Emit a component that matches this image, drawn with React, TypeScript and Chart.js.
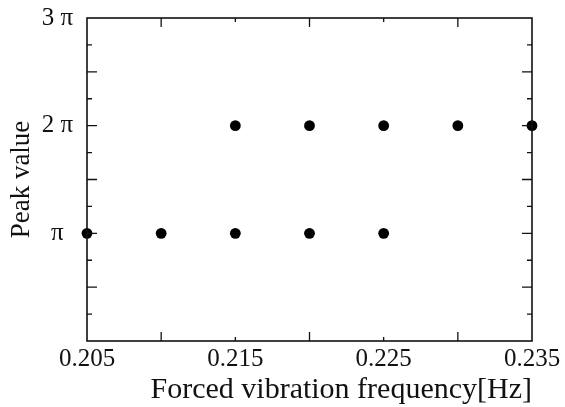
import React, { useEffect, useRef } from "react";
import { Chart, registerables } from "chart.js";

Chart.register(...registerables);

// Data (y values in units of π)
const freqLow = [0.205, 0.21, 0.215, 0.22, 0.225];
const peakLow = [1, 1, 1, 1, 1];
const freqHigh = [0.215, 0.22, 0.225, 0.23, 0.235];
const peakHigh = [2, 2, 2, 2, 2];

const xTickLabels = ["0.205", "", "0.215", "", "0.225", "", "0.235"];
const yTickLabels = ["", "π", "2 π", "3 π"];

const FONT = "'Liberation Serif', 'Times New Roman', serif";
const INK = "#111";

const framePlugin = {
  id: "frameTicks",
  afterDatasetsDraw(chart: any) {
    const { ctx, chartArea } = chart;
    const { left, right, top, bottom } = chartArea;
    ctx.save();
    ctx.strokeStyle = INK;
    ctx.lineWidth = 1.6;
    ctx.strokeRect(left, top, right - left, bottom - top);
    ctx.lineWidth = 1.3;
    const xs = chart.scales.x;
    xs.ticks.forEach((t: any, i: number) => {
      const px = xs.getPixelForValue(t.value);
      if (px <= left + 1 || px >= right - 1) return;
      const len = i % 2 === 0 ? 4 : 9;
      ctx.beginPath();
      ctx.moveTo(px, bottom);
      ctx.lineTo(px, bottom - len);
      ctx.moveTo(px, top);
      ctx.lineTo(px, top + len);
      ctx.stroke();
    });
    const ys = chart.scales.y;
    ys.ticks.forEach((t: any) => {
      const py = ys.getPixelForValue(t.value);
      if (py <= top + 1 || py >= bottom - 1) return;
      const frac = Math.abs(t.value * 2 - Math.round(t.value * 2));
      const len = frac < 1e-6 ? 10 : 5;
      ctx.beginPath();
      ctx.moveTo(left, py);
      ctx.lineTo(left + len, py);
      ctx.moveTo(right, py);
      ctx.lineTo(right - len, py);
      ctx.stroke();
    });
    ctx.restore();
  },
};

export default function App() {
  const ref = useRef<HTMLCanvasElement | null>(null);
  useEffect(() => {
    if (!ref.current) return;
    const chart = new Chart(ref.current, {
      type: "scatter",
      data: {
        datasets: [
          {
            data: freqLow.map((x, i) => ({ x, y: peakLow[i] })),
            backgroundColor: "#000",
            borderWidth: 0,
            pointRadius: 5.4,
            clip: false,
          },
          {
            data: freqHigh.map((x, i) => ({ x, y: peakHigh[i] })),
            backgroundColor: "#000",
            borderWidth: 0,
            pointRadius: 5.4,
            clip: false,
          },
        ],
      },
      options: {
        animation: false,
        responsive: false,
        layout: { padding: { top: 18, right: 33, left: 0, bottom: 0 } },
        plugins: { legend: { display: false }, tooltip: { enabled: false } },
        scales: {
          x: {
            type: "linear",
            min: 0.205,
            max: 0.235,
            afterFit: (s: any) => {
              s.height = 66;
              s.paddingLeft = 0;
              s.paddingRight = 0;
            },
            ticks: {
              stepSize: 0.005,
              autoSkip: false,
              maxRotation: 0,
              padding: 3,
              color: INK,
              font: { family: FONT, size: 25 },
              callback: (_v: any, i: number) => xTickLabels[i] ?? "",
            },
            grid: { display: false, drawTicks: false },
            border: { display: false },
            title: {
              display: true,
              text: "Forced vibration frequency[Hz]",
              align: "end",
              color: INK,
              font: { family: FONT, size: 30, lineHeight: 1 },
              padding: { top: 0, bottom: 2 },
            },
          },
          y: {
            type: "linear",
            min: 0,
            max: 3,
            afterFit: (s: any) => {
              s.width = 87;
              s.paddingTop = 0;
              s.paddingBottom = 0;
            },
            ticks: {
              stepSize: 0.25,
              autoSkip: false,
              padding: 14,
              crossAlign: "center",
              color: INK,
              font: { family: FONT, size: 25 },
              callback: (v: any) => {
                const n = Number(v);
                return Math.abs(n - Math.round(n)) < 1e-6 ? yTickLabels[Math.round(n)] : "";
              },
            },
            grid: { display: false, drawTicks: false },
            border: { display: false },
            title: {
              display: true,
              text: "Peak value",
              color: INK,
              font: { family: FONT, size: 27, lineHeight: 1 },
              padding: { top: 8, bottom: 0 },
            },
          },
        },
      },
      plugins: [framePlugin],
    });
    return () => chart.destroy();
  }, []);
  return (
    <div style={{ position: "fixed", left: 0, top: 0, width: 565, height: 407, background: "#fff" }}>
      <canvas ref={ref} width={565} height={407} style={{ display: "block" }} />
    </div>
  );
}
